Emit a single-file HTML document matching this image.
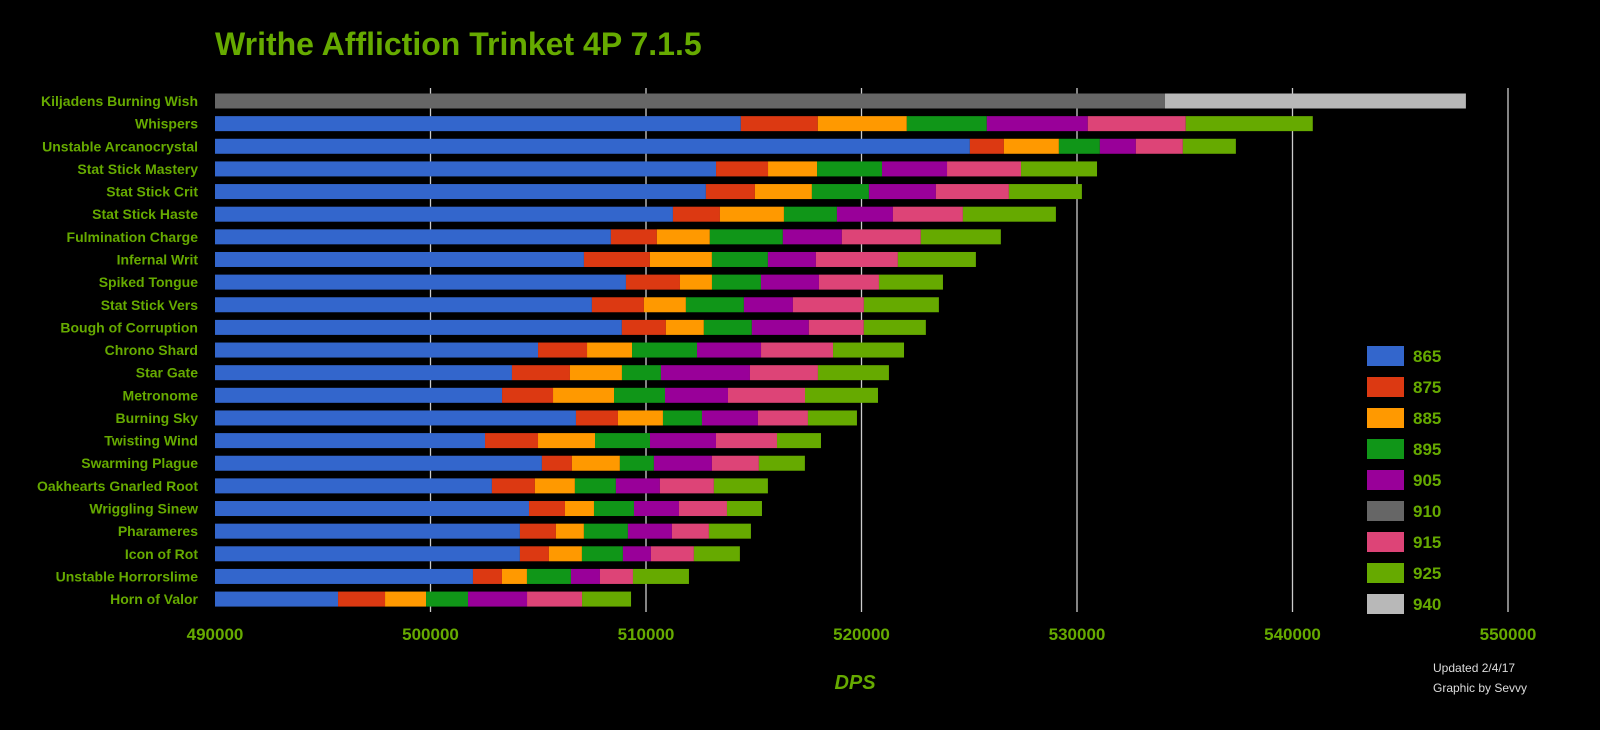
<!DOCTYPE html>
<html><head><meta charset="utf-8"><style>
html,body{margin:0;padding:0;background:#000;}
svg{display:block;font-family:"Liberation Sans",Arial,sans-serif;}
</style></head><body>
<svg id="chart" width="1600" height="730" viewBox="0 0 1600 730">
<rect x="0" y="0" width="1600" height="730" fill="#000"/>
<text x="215" y="55" fill="#66aa00" font-size="32" font-weight="bold">Writhe Affliction Trinket 4P 7.1.5</text>
<g id="grid"></g><g id="bars"></g><g id="ylabels"></g><g id="xticks"></g><g id="legend"></g>
<text x="855" y="689" fill="#66aa00" font-size="20" font-weight="bold" font-style="italic" text-anchor="middle">DPS</text>
<text x="1433" y="672" fill="#ddd" font-size="12">Updated 2/4/17</text>
<text x="1433" y="692" fill="#ddd" font-size="12">Graphic by Sevvy</text>
</svg>
<script>
const categories=["Kiljadens Burning Wish","Whispers","Unstable Arcanocrystal","Stat Stick Mastery","Stat Stick Crit","Stat Stick Haste","Fulmination Charge","Infernal Writ","Spiked Tongue","Stat Stick Vers","Bough of Corruption","Chrono Shard","Star Gate","Metronome","Burning Sky","Twisting Wind","Swarming Plague","Oakhearts Gnarled Root","Wriggling Sinew","Pharameres","Icon of Rot","Unstable Horrorslime","Horn of Valor"];
const seriesNames=["865","875","885","895","905","910","915","925","940"];
const seriesColors=["#3366cc","#dc3912","#ff9900","#109618","#990099","#666666","#dd4477","#66aa00","#b8b8b8"];
const s865=[0,514400,525030,513250,512780,511250,508370,507120,509070,507490,508880,504990,503780,503320,506750,502530,505170,502850,504570,504150,504150,501970,495710];
const s875=[0,3573,1578,2413,2274,2181,2134,3062,2506,2413,2042,2274,2691,2366,1949,2459,1392,1995,1670,1670,1346,1346,2181];
const s885=[0,4130,2552,2274,2645,2970,2459,2877,1485,1949,1763,2088,2413,2830,2088,2645,2227,1856,1346,1299,1531,1160,1902];
const s895=[0,3712,1902,3016,2645,2459,3387,2598,2274,2691,2227,3016,1810,2366,1810,2552,1578,1902,1856,2042,1902,2042,1949];
const s905=[0,4686,1670,3016,3109,2598,2738,2227,2691,2274,2645,2970,4130,2923,2598,3062,2691,2042,2088,2042,1299,1346,2738];
const s910=[534080,0,0,0,0,0,0,0,0,0,0,0,0,0,0,0,0,0,0,0,0,0,0];
const s915=[0,4547,2181,3434,3387,3248,3666,3805,2784,3294,2552,3341,3155,3573,2320,2830,2181,2506,2227,1717,1995,1531,2552];
const s925=[0,5893,2459,3526,3387,4315,3712,3619,2970,3480,2877,3294,3294,3387,2274,2042,2134,2506,1624,1949,2134,2598,2274];
const s940=[13966,0,0,0,0,0,0,0,0,0,0,0,0,0,0,0,0,0,0,0,0,0,0];
const series=[s865,s875,s885,s895,s905,s910,s915,s925,s940];
const xTicks=[490000,500000,510000,520000,530000,540000,550000];
const NS="http://www.w3.org/2000/svg";
const x0=215,x1=1508,xmin=490000,xmax=550000;
function X(v){return x0+(v-xmin)/(xmax-xmin)*(x1-x0);}
function Y(i){return 101+i*22.64;}
function mk(tag,attrs,parent){const e=document.createElementNS(NS,tag);for(const k in attrs)e.setAttribute(k,attrs[k]);parent.appendChild(e);return e;}
const grid=document.getElementById('grid'),bars=document.getElementById('bars'),yl=document.getElementById('ylabels'),xt=document.getElementById('xticks'),lg=document.getElementById('legend');
xTicks.forEach((t,i)=>{
  if(i>0){const l=mk('line',{x1:X(t),x2:X(t),y1:88,y2:612,stroke:'#ccc','stroke-width':1.3},grid);
  
  }
  const tx=mk('text',{x:X(t),y:640,fill:'#66aa00','font-size':17,'font-weight':'bold','text-anchor':'middle'},xt);
  tx.textContent=t;
  
  
});
categories.forEach((c,i)=>{
  const t=mk('text',{x:198,y:Y(i)+5,fill:'#66aa00','font-size':14,'font-weight':'bold','text-anchor':'end'},yl);
  t.textContent=c;
  
  
  let cum=xmin;
  series.forEach((s,j)=>{
    const v=s[i];if(!v)return;
    const start=(j===0||(j===5&&cum===xmin))?xmin:cum;
    const end=(j===0||j===5)?v:cum+v;
    const r=mk('rect',{x:X(start),y:Y(i)-7.5,width:Math.max(0,X(end)-X(start)),height:15,fill:seriesColors[j]},bars);
    
    
    cum=end;
  });
});
seriesNames.forEach((n,j)=>{
  const y=356+j*31;
  const r=mk('rect',{x:1367,y:y-10,width:37,height:20,fill:seriesColors[j]},lg);
  
  
  const t=mk('text',{x:1413,y:y+6,fill:'#66aa00','font-size':17,'font-weight':'bold'},lg);
  t.textContent=n;
  
  
});
</script>
</body></html>
